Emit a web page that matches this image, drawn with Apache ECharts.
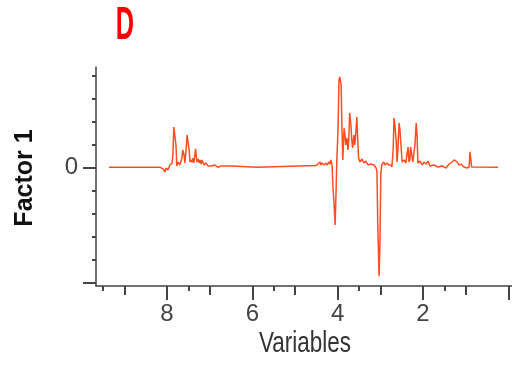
<!DOCTYPE html>
<html>
<head>
<meta charset="utf-8">
<script src="https://cdn.jsdelivr.net/npm/echarts@6/dist/echarts.min.js"></script>
<style>html,body{margin:0;padding:0;background:#fff}#c{width:512px;height:367px}</style>
</head>
<body>
<div id="c"></div>
<script>
// chemical shift (ppm) and loading values
var ppm = [9.36,9.12,9.10,9.08,8.82,8.80,8.77,8.47,8.45,8.42,8.16,8.09,8.05,8.02,7.98,7.93,7.88,7.86,7.84,7.81,7.79,7.77,7.74,7.70,7.65,7.63,7.60,7.58,7.55,7.53,7.51,7.48,7.46,7.44,7.41,7.39,7.37,7.33,7.30,7.27,7.25,7.23,7.20,7.18,7.13,7.09,7.04,7.00,6.95,6.88,6.80,6.73,6.71,6.48,6.45,5.89,5.87,4.51,4.46,4.44,4.41,4.39,4.37,4.32,4.27,4.25,4.20,4.18,4.16,4.13,4.11,4.09,4.06,4.04,4.02,3.99,3.97,3.95,3.92,3.90,3.88,3.85,3.83,3.81,3.78,3.76,3.74,3.72,3.69,3.67,3.65,3.62,3.60,3.58,3.55,3.53,3.51,3.48,3.43,3.39,3.34,3.29,3.24,3.20,3.15,3.10,3.08,3.06,3.03,3.01,2.99,2.97,2.92,2.89,2.84,2.80,2.75,2.73,2.70,2.68,2.66,2.63,2.61,2.59,2.56,2.54,2.52,2.49,2.45,2.40,2.38,2.35,2.33,2.31,2.29,2.26,2.24,2.22,2.19,2.16,2.14,2.12,2.07,2.02,1.98,1.93,1.88,1.84,1.74,1.65,1.56,1.46,1.39,1.32,1.27,1.25,1.20,1.16,1.11,1.04,0.97,0.92,0.90,0.88,0.86,0.24];
var loading = [0,0,0.06,0,0,0.06,0,0,0.06,0,0,-0.07,-0.2,-0.03,-0.12,0.1,0.19,0.62,1.75,1.67,0.97,0.06,0.23,0.1,0.4,0.75,0.53,0.19,0.84,1.4,1.14,0.75,0.23,0.32,0.23,0.4,0.19,0.8,0.23,0.36,0.19,0.32,0.14,0.32,0.1,0.19,0.06,0.14,0.06,0.1,0,0.06,0,0.06,0,0,0.08,0.08,0.14,0.06,0.23,0.1,0.19,0.1,0.19,0.1,0.23,0.14,0.32,0.06,-0.9,-1.42,-2.51,-1.2,0.32,1.75,3.8,3.93,3.58,1.75,0.32,1.7,1.4,0.97,1.27,0.75,1.19,2.36,1.84,1.19,0.84,1.4,0.97,1.4,2.18,1.19,0.4,0.23,0.36,0.19,0.27,0.1,0.14,0.06,0.1,-0.03,-0.2,-2.51,-4.73,-3.39,-0.33,0.1,0.23,0.1,0.19,0.1,0.1,0.01,0.75,2.14,1.84,1.19,0.23,0.75,1.92,1.62,1.05,0.23,0.32,0.19,0.53,0.88,0.23,0.32,0.88,0.88,0.23,0.19,0.97,1.92,1.4,0.19,0.27,0.1,0.23,0.14,0.27,0.06,0.1,0.01,0.06,-0.03,0.14,0.23,0.32,0.36,0.23,0.1,0.14,0.01,-0.03,0.01,0.67,0.62,0.01,0];
var xMajorTicks = [0,2,4,6,8];
var xLabels = [2,4,6,8];
var xMidTicks = [1,3,5,7,9];
var xSmallTicks = [1.5,3.5,5.5,7.5,9.5];
var yMajorTicks = [-5,0];
var yLabels = [0];
var yMinorTicks = [-4,-3,-2,-1,1,2,3,4];

var data = ppm.map(function(p,i){return [p, loading[i]];});
var axisCol = '#444';
var narrow = "'Liberation Sans Narrow','Liberation Sans',Arial,sans-serif";
function xAx(ticks, len, labels, pos, offset, inside, line){
  return {
    type:'value', inverse:true, min:-0.085, max:9.664, position:pos, offset:offset,
    axisLine:{show:line, onZero:false, lineStyle:{color:axisCol, width:1.5}},
    axisTick:{show:true, inside:inside, customValues:ticks, length:len, lineStyle:{color:axisCol, width:2}},
    axisLabel:labels ? {show:true, customValues:labels, margin:16, color:'#444', fontSize:24, fontFamily:narrow} : {show:false},
    splitLine:{show:false}
  };
}
function yAx(ticks, len, labels, pos, offset, inside, line){
  return {
    type:'value', min:-5.16, max:4.36, position:pos, offset:offset,
    axisLine:{show:line, onZero:false, lineStyle:{color:axisCol, width:1.5}},
    axisTick:{show:true, inside:inside, customValues:ticks, length:len, lineStyle:{color:axisCol, width:2}},
    axisLabel:labels ? {show:true, customValues:labels, margin:18, color:'#444', fontSize:24, fontFamily:narrow} : {show:false},
    splitLine:{show:false}
  };
}
var chart = echarts.init(document.getElementById('c'));
chart.setOption({
  animation:false,
  backgroundColor:'#fff',
  grid:{left:96, right:0, top:67, bottom:81, containLabel:false},
  xAxis:[
    xAx(xMajorTicks,14,xLabels,'bottom',0,false,true),
    xAx(xMidTicks,9,null,'top',-219,true,false),
    xAx(xSmallTicks,5,null,'bottom',0,false,false)
  ],
  yAxis:[
    yAx(yMajorTicks,13,yLabels,'left',0,false,true),
    yAx(yMinorTicks,4,null,'right',-416,true,false)
  ],
  series:[{
    type:'line', data:data, xAxisIndex:0, yAxisIndex:0,
    showSymbol:false, symbol:'none',
    lineStyle:{color:'#ff4d1f', width:1.5}
  }],
  graphic:[
    {type:'text', x:125, y:26, scaleX:0.55,
     style:{text:'D', font:'bold 46px "Liberation Sans", Arial, sans-serif', fill:'#ff0000', align:'center', verticalAlign:'middle'}},
    {type:'text', x:305, y:344, scaleX:0.75,
     style:{text:'Variables', font:'30px "Liberation Sans", Arial, sans-serif', fill:'#333', align:'center', verticalAlign:'middle'}},
    {type:'text', x:25, y:178, rotation:Math.PI/2,
     style:{text:'Factor 1', font:'bold 25px "Liberation Sans", Arial, sans-serif', fill:'#111', align:'center', verticalAlign:'middle'}}
  ]
});
</script>
</body>
</html>
